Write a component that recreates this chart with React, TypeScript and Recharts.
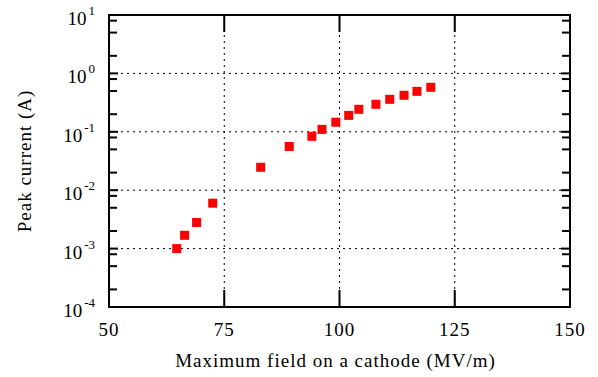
import React from "react";
import {
  ScatterChart,
  Scatter,
  XAxis,
  YAxis,
  ReferenceLine,
  Label,
} from "recharts";

// Maximum field on the cathode (MV/m) and measured peak current (A)
const fieldMVm = [
  64.7, 66.4, 69.0, 72.5, 82.9, 89.1, 94.0, 96.2, 99.2, 102.0, 104.2, 107.9,
  110.9, 114.0, 116.8, 119.8,
];
const peakCurrentA = [
  0.001, 0.00169, 0.0028, 0.006, 0.0247, 0.056, 0.0837, 0.11, 0.146, 0.191,
  0.243, 0.296, 0.36, 0.422, 0.493, 0.578,
];

const xTicks = [50, 75, 100, 125, 150];
// decades plus the 2 / 5 / 8 minor marks
const yTicks = [
  1e-4, 2e-4, 5e-4, 8e-4, 1e-3, 2e-3, 5e-3, 8e-3, 1e-2, 2e-2, 5e-2, 8e-2, 1e-1,
  0.2, 0.5, 0.8, 1, 2, 5, 8, 10,
];
const xGrid = [75, 100, 125];
const yGrid = [1e-3, 1e-2, 1e-1, 1];

const FONT = "'Liberation Serif', 'Times New Roman', serif";
const RED = "#ff0000";

const W = 598;
const H = 377;
const MARGIN = { top: 15, right: 28, bottom: 0, left: 0 };
const X_AXIS_H = 70;
const Y_AXIS_W = 109;
const PLOT_H = H - MARGIN.top - X_AXIS_H; // 292
const PLOT_W = W - MARGIN.right - Y_AXIS_W; // 461

const isDecade = (v: number) => {
  const l = Math.log10(v);
  return Math.abs(l - Math.round(l)) < 1e-9;
};

// x ticks: inward marks on bottom and top edge, plus label
const renderBottomTick = (props: any) => {
  const { x, y, payload } = props;
  return (
    <g key={`bt${payload.value}`}>
      <rect x={x - 1} y={y - 17} width={2} height={17} fill="#000" />
      <rect x={x - 1} y={y - PLOT_H} width={2} height={17} fill="#000" />
      <text
        x={x}
        y={y + 29}
        textAnchor="middle"
        fontSize={19}
        letterSpacing={1}
        fill="#000"
        fontFamily={FONT}
      >
        {payload.value}
      </text>
    </g>
  );
};

// y ticks: inward marks on left and right edge, label on decades
const renderLeftTick = (props: any) => {
  const { x, y, payload } = props;
  const major = isDecade(payload.value);
  const len = major ? 9 : 8;
  const exp = Math.round(Math.log10(payload.value));
  return (
    <g key={`lt${payload.value}`}>
      <rect x={x} y={y - 1} width={len} height={2} fill="#000" />
      <rect x={x + PLOT_W - len} y={y - 1} width={len} height={2} fill="#000" />
      {major && (
        <text
          x={95}
          y={y + 10}
          textAnchor="end"
          fontSize={19}
          fill="#000"
          fontFamily={FONT}
        >
          10
          <tspan fontSize={13} dx={2} dy={-10}>
            {exp}
          </tspan>
        </text>
      )}
    </g>
  );
};

const FrameLine = (p: any) => (
  <line
    x1={p.x1}
    y1={p.y1}
    x2={p.x2}
    y2={p.y2}
    stroke="#000"
    strokeWidth={2}
    strokeLinecap="square"
  />
);

const Square = (props: any) => (
  <rect
    x={props.cx - 4.5}
    y={props.cy - 4.5}
    width={9}
    height={9}
    fill={RED}
  />
);

export default function App() {
  const data = fieldMVm.map((x, i) => ({ x, y: peakCurrentA[i] }));

  return (
    <div
      style={{
        position: "absolute",
        left: 0,
        top: 0,
        width: W,
        height: H,
        background: "#fff",
        fontFamily: FONT,
      }}
    >
      <ScatterChart width={W} height={H} margin={MARGIN}>
        <XAxis
          dataKey="x"
          type="number"
          domain={[50, 150]}
          ticks={xTicks}
          interval={0}
          height={X_AXIS_H}
          tickSize={0}
          tickMargin={0}
          tickLine={false}
          axisLine={false}
          tick={renderBottomTick}
        >
          <Label
            value="Maximum field on a cathode (MV/m)"
            position="insideBottom"
            offset={10}
            dx={-4}
            style={{
              fontSize: 19,
              letterSpacing: 1,
              fill: "#000",
              fontFamily: FONT,
            }}
          />
        </XAxis>
        <YAxis
          dataKey="y"
          type="number"
          scale="log"
          domain={[1e-4, 10]}
          allowDataOverflow
          ticks={yTicks}
          interval={0}
          width={Y_AXIS_W}
          tickSize={0}
          tickMargin={0}
          tickLine={false}
          axisLine={false}
          tick={renderLeftTick}
        >
          <Label
            content={({ viewBox }: any) => {
              const cx = 31;
              const cy = viewBox.y + viewBox.height / 2;
              return (
                <text
                  x={cx}
                  y={cy}
                  transform={`rotate(-90, ${cx}, ${cy})`}
                  textAnchor="middle"
                  fontSize={19}
                  letterSpacing={1}
                  fill="#000"
                  fontFamily={FONT}
                >
                  Peak current (A)
                </text>
              );
            }}
          />
        </YAxis>

        {xGrid.map((v) => (
          <ReferenceLine
            key={`vx${v}`}
            x={v}
            stroke="#000"
            strokeWidth={1}
            strokeDasharray="2 4"
          />
        ))}
        {yGrid.map((v) => (
          <ReferenceLine
            key={`hy${v}`}
            y={v}
            stroke="#000"
            strokeWidth={1}
            strokeDasharray="2 4"
          />
        ))}

        {/* frame */}
        <ReferenceLine x={50} shape={FrameLine} />
        <ReferenceLine x={150} shape={FrameLine} />
        <ReferenceLine y={1e-4} shape={FrameLine} />
        <ReferenceLine y={10} shape={FrameLine} />

        <Scatter data={data} shape={Square} isAnimationActive={false} />
      </ScatterChart>
    </div>
  );
}
